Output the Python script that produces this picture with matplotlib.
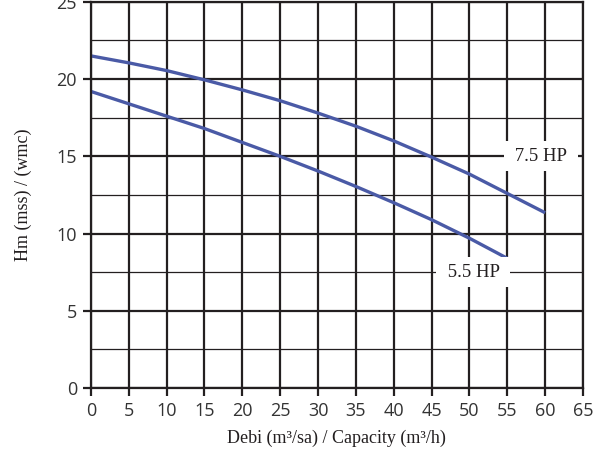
import numpy as np
import matplotlib
matplotlib.use('Agg')
import matplotlib.pyplot as plt

# pump curves
q_75 = [0, 5, 10, 15, 20, 25, 30, 35, 40, 45, 50, 55, 60]
h_75 = [21.5, 21.05, 20.55, 19.95, 19.3, 18.6, 17.8, 16.95, 16.0, 14.95, 13.85, 12.6, 11.35]

q_55 = [0, 5, 10, 15, 20, 25, 30, 35, 40, 45, 50, 55]
h_55 = [19.2, 18.4, 17.6, 16.8, 15.9, 15.0, 14.05, 13.05, 12.0, 10.9, 9.7, 8.4]

labels = ['7.5 HP', '5.5 HP']
label_pos = [(59.4, 15.0), (50.5, 7.5)]

xticks = np.arange(0, 66, 5)
yticks = np.arange(0, 26, 5)

grid_col = '#231f20'
curve_col = '#4a5aa6'
tick_font = 'Open Sans'
serif = 'Liberation Serif'

fig = plt.figure(figsize=(6.06, 4.55), dpi=100)
ax = fig.add_axes([0.150, 0.147, 0.812, 0.849])

ax.set_xlim(0, 65)
ax.set_ylim(0, 25)

# grid: heavy every 5, light at the half steps on y
for x in xticks:
    ax.axvline(x, color=grid_col, lw=1.6, zorder=1)
for y in yticks:
    ax.axhline(y, color=grid_col, lw=1.6, zorder=1)
for y in np.arange(2.5, 25, 5):
    ax.axhline(y, color=grid_col, lw=0.9, zorder=1)

for s in ax.spines.values():
    s.set_color(grid_col)
    s.set_linewidth(1.6)
    s.set_zorder(5)

ax.plot(q_75, h_75, color=curve_col, lw=2.4, zorder=3, solid_capstyle='butt')
ax.plot(q_55, h_55, color=curve_col, lw=2.4, zorder=3, solid_capstyle='butt')

for lab, (x, y) in zip(labels, label_pos):
    ax.text(x, y, ' ' + lab + ' ', family=serif, fontsize=13.5, color='#231f20',
            ha='center', va='center', zorder=4,
            bbox=dict(boxstyle='square,pad=0.35', fc='white', ec='none'))

ax.set_xticks(xticks)
ax.set_yticks(yticks)
ax.tick_params(direction='out', length=6, width=1.6, color=grid_col,
               labelsize=13, labelcolor='#333333', pad=4)
for t in ax.get_xticklabels() + ax.get_yticklabels():
    t.set_family(tick_font)

ax.set_xlabel('Debi (m\u00b3/sa) / Capacity (m\u00b3/h)', family=serif,
              fontsize=13, color='#231f20', labelpad=7)
ax.set_ylabel('Hm (mss) / (wmc)', family=serif, fontsize=13,
              color='#231f20', labelpad=18)

plt.savefig('out.png', dpi=100)
